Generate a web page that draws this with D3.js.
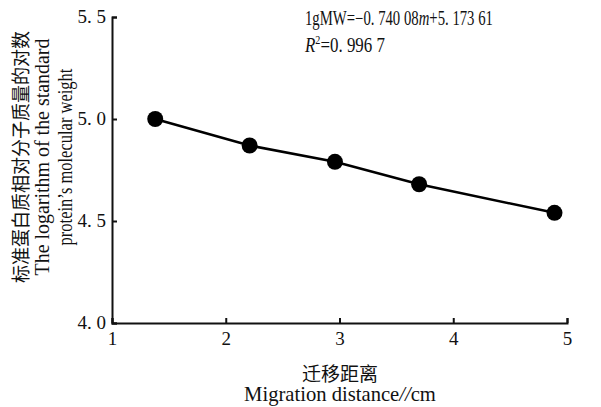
<!DOCTYPE html>
<html>
<head>
<meta charset="utf-8">
<script src="https://cdn.jsdelivr.net/npm/d3@7"></script>
<style>
body{margin:0;background:#fff;}
svg{display:block;}
text{font-family:"Liberation Serif","DejaVu Serif",serif;fill:#111;}
.cn{font-family:"Noto Sans CJK SC","Noto Sans CJK JP",sans-serif;}
</style>
</head>
<body>
<svg></svg>
<script>
// migration distance (cm) and lg MW of the standard proteins
var distance=[1.38,2.21,2.96,3.70,4.89];
var lgMW=[5.00,4.87,4.79,4.68,4.54];
var xTicks=[1,2,3,4,5];
var yTicks=[4.0,4.5,5.0,5.5];

var width=601, height=407;
var margin={top:17,bot:84,left:112,right:34};

var svg=d3.select("svg").attr("width",width).attr("height",height);

var xScale=d3.scaleLinear().domain([1,5]).range([margin.left,width-margin.right]);
var yScale=d3.scaleLinear().domain([4,5.5]).range([height-margin.bot,margin.top]);

function fmt(v){ // "5. 5" style with a space after the point
  return d3.format(".1f")(v).replace(".",". ");
}

var xAxis=d3.axisBottom(xScale).tickValues(xTicks).tickSize(-5).tickPadding(9)
            .tickFormat(d3.format("d"));
var yAxis=d3.axisLeft(yScale).tickValues(yTicks).tickSize(-5).tickPadding(6)
            .tickFormat(fmt);

var gx=svg.append("g")
   .attr("transform","translate(0,"+(height-margin.bot)+")")
   .call(xAxis);
var gy=svg.append("g")
   .attr("transform","translate("+margin.left+",0)")
   .call(yAxis);

[gx,gy].forEach(function(g){
  g.select(".domain").attr("stroke","#111").attr("stroke-width",2);
  g.selectAll(".tick line").attr("stroke","#111").attr("stroke-width",2);
  g.selectAll(".tick text").attr("font-family","Liberation Serif, serif")
   .attr("font-size",19).attr("fill","#333");
});
gy.selectAll(".tick text").attr("dy","0.3em");

var pts=distance.map(function(d,i){return [d,lgMW[i]];});
var lineMaker=d3.line()
   .x(function(d){return xScale(d[0]);})
   .y(function(d){return yScale(d[1]);});

svg.append("path")
   .attr("d",lineMaker(pts))
   .attr("fill","none")
   .attr("stroke","#000")
   .attr("stroke-width",2.5);

svg.selectAll("circle.pt")
   .data(pts)
   .enter()
   .append("circle")
   .attr("class","pt")
   .attr("cx",function(d){return xScale(d[0]);})
   .attr("cy",function(d){return yScale(d[1]);})
   .attr("r",8)
   .attr("fill","#000");

// squeeze a text horizontally to a target width (narrow serif look)
function squeeze(g,txt,w){
  var len=txt.node().getComputedTextLength();
  var s=w/len;
  g.attr("transform",g.attr("data-t")+" scale("+s+",1)");
}

// regression equation
var eqG=svg.append("g").attr("data-t","translate(305,25)");
var eq=eqG.append("text").attr("font-size",20);
eq.append("tspan").text("1gMW=\u22120. 740 08");
eq.append("tspan").attr("font-style","italic").text("m");
eq.append("tspan").text("+5. 173 61");
squeeze(eqG,eq,188);

var r2G=svg.append("g").attr("data-t","translate(305,52)");
var r2=r2G.append("text").attr("font-size",20);
r2.append("tspan").attr("font-style","italic").text("R");
r2.append("tspan").attr("font-size",12).attr("dy",-8).text("2");
r2.append("tspan").attr("dy",8).text("=0. 996 7");
squeeze(r2G,r2,80);

// y label
function yLine(cls,base,size,w,str){
  var g=svg.append("g").attr("data-t","translate("+base+",157) rotate(-90)");
  var t=g.append("text").attr("text-anchor","middle").attr("font-size",size).text(str);
  if(cls) t.attr("class",cls);
  squeeze(g,t,w);
}
yLine("cn",28,19,252,"标准蛋白质相对分子质量的对数");
yLine(null,49,21,237,"The logarithm of the standard");
yLine(null,72,21,177,"protein\u2019s molecular weight");

// x label
svg.append("text").attr("class","cn").attr("x",340).attr("y",381)
  .attr("text-anchor","middle").attr("font-size",19)
  .text("迁移距离");
var xlG=svg.append("g").attr("data-t","translate(340,401)");
var xl=xlG.append("text").attr("text-anchor","middle").attr("font-size",20);
xl.append("tspan").text("Migration distance");
xl.append("tspan").attr("font-style","italic").text("//");
xl.append("tspan").text("cm");
squeeze(xlG,xl,192);
</script>
</body>
</html>
